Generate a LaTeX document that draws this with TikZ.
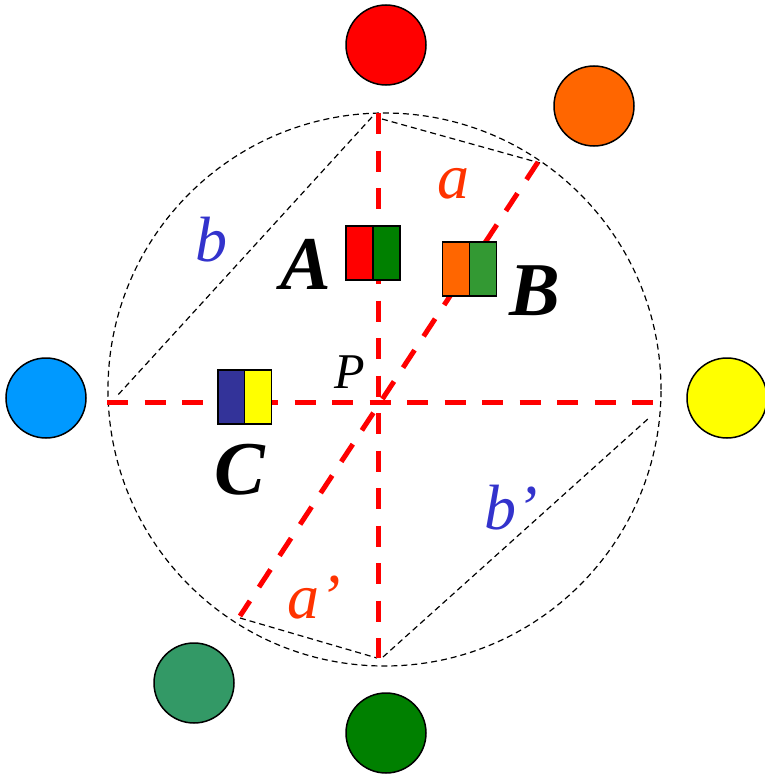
\documentclass[tikz,border=0pt]{standalone}
\usepackage{fontspec}
\setmainfont{Liberation Serif}
\definecolor{cRed}{HTML}{FF0000}
\definecolor{cOrange}{HTML}{FF6600}
\definecolor{cBlue}{HTML}{0099FF}
\definecolor{cYellow}{HTML}{FFFF00}
\definecolor{cTeal}{HTML}{339966}
\definecolor{cGreen}{HTML}{008000}
\definecolor{cGreenB}{HTML}{339933}
\definecolor{cNavy}{HTML}{333399}
\definecolor{cLabA}{HTML}{FF3300}
\definecolor{cLabB}{HTML}{3333CC}
\begin{document}
\begin{tikzpicture}[x=1pt,y=-1pt,
  ball/.style={circle,draw=black,line width=1.5pt,minimum size=80pt,inner sep=0pt},
  half/.style={draw=black,line width=1.5pt,minimum width=27pt,minimum height=54pt,inner sep=0pt},
  axisline/.style={draw=cRed,line width=5pt,dash pattern=on 21pt off 16.5pt},
  chord/.style={draw=black,line width=1.2pt,dash pattern=on 6pt off 4pt},
  biglab/.style={inner sep=0pt,font=\fontsize{76}{76}\selectfont\bfseries\itshape},
  seglab/.style={inner sep=0pt,font=\fontsize{64}{64}\selectfont\itshape}]
\useasboundingbox (0,0) rectangle (765,776);
% outer circle
\draw[chord] (384.5,389.5) circle[radius=276.5pt];
% end points
\coordinate (T) at (378,113);
\coordinate (Bm) at (378,658);
\coordinate (L) at (107,402);
\coordinate (R) at (660,402);
\coordinate (Au) at (538,162);
\coordinate (Ad) at (240,616);
% chords
\coordinate (c1) at (372,117);
\coordinate (c2) at (117,396);
\coordinate (c3) at (382,119);
\coordinate (c4) at (540,163);
\coordinate (c5) at (240,618);
\coordinate (c6) at (377,658);
\coordinate (c7) at (383,657);
\coordinate (c8) at (649,418);
\draw[chord] (c1) -- (c2);
\draw[chord] (c3) -- (c4);
\draw[chord] (c5) -- (c6);
\draw[chord] (c7) -- (c8);
% red axes
\draw[axisline] (T) -- (Bm);
\draw[axisline] (L) -- (R);
\draw[axisline] (Au) -- (Ad);
% balls
\node[ball,fill=cRed] (bRed) at (386,45) {};
\node[ball,fill=cOrange] (bOrange) at (594,106) {};
\node[ball,fill=cBlue] (bBlue) at (46,398) {};
\node[ball,fill=cYellow] (bYellow) at (727,398) {};
\node[ball,fill=cTeal] (bTeal) at (194,683) {};
\node[ball,fill=cGreen] (bGreen) at (386,733) {};
% boxes
\node[half,fill=cRed] (A1) at (359.5,253) {};
\node[half,fill=cGreen] (A2) at (386.5,253) {};
\node[half,fill=cOrange] (B1) at (456,269) {};
\node[half,fill=cGreenB] (B2) at (483,269) {};
\node[half,fill=cNavy] (C1) at (231.5,397) {};
\node[half,fill=cYellow] (C2) at (258,397) {};
% labels
\node[biglab] (lA) at (306,264) {A};
\node[biglab] (lB) at (535,291) {B};
\node[biglab] (lC) at (240,470) {C};
\node[inner sep=0pt,font=\fontsize{50}{50}\selectfont\itshape] (lP) at (350,372) {P};
\node[seglab,text=cLabA] (la) at (453,184) {a};
\node[seglab,text=cLabA] (la2) at (314,598) {a’};
\node[seglab,text=cLabB] (lb) at (211,240) {b};
\node[seglab,text=cLabB] (lb2) at (511,508) {b’};
\end{tikzpicture}
\end{document}
